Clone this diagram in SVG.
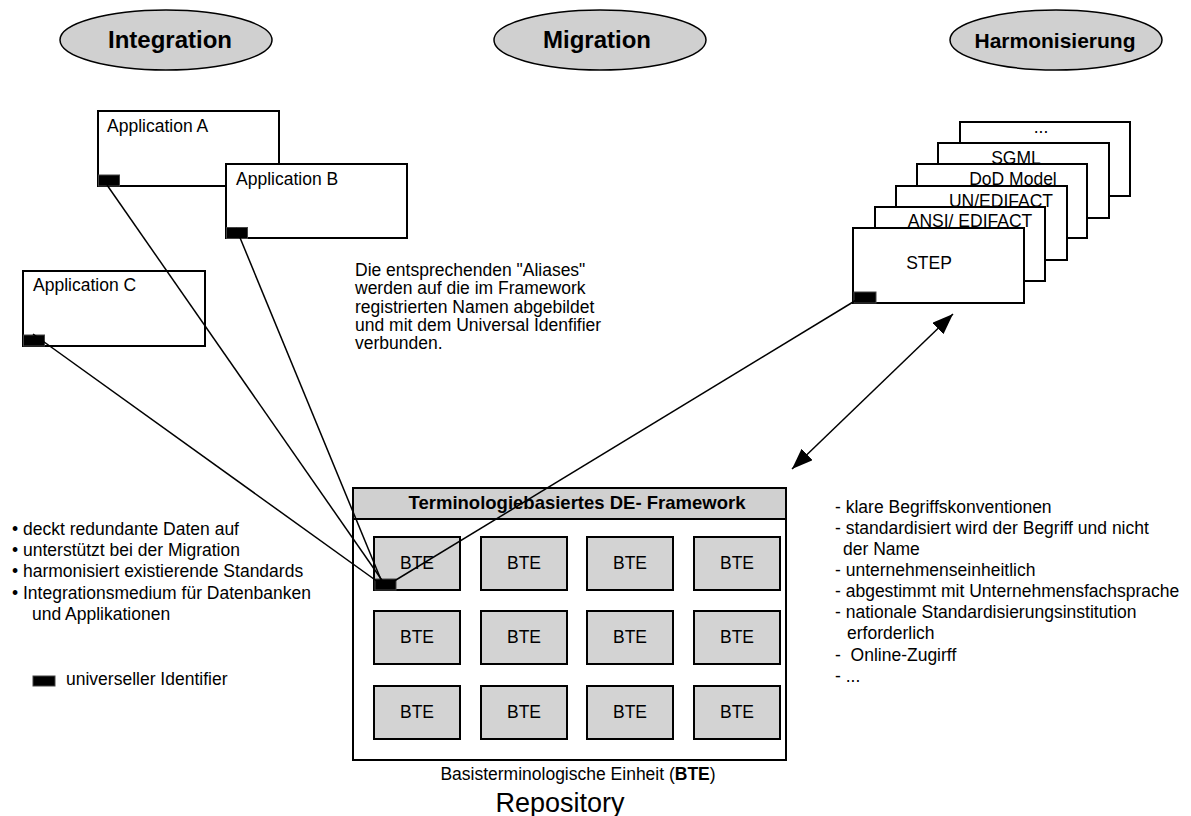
<svg xmlns="http://www.w3.org/2000/svg" width="1191" height="816" viewBox="0 0 1191 816">
<style>
text{font-family:"Liberation Sans",Arial,sans-serif;fill:#000}
.t{font-size:17.5px}
.h{font-size:24px;font-weight:bold}
.ell{fill:#d0d0d0;stroke:#000;stroke-width:1.5}
.box{fill:#fff;stroke:#000;stroke-width:2}
.bte{fill:#d3d3d3;stroke:#000;stroke-width:2}
.uid{fill:#000;stroke:#444;stroke-width:1}
.con{stroke:#000;stroke-width:1.5;fill:none}
</style>
<defs>
<marker id="ah" markerUnits="userSpaceOnUse" markerWidth="24" markerHeight="18" refX="21" refY="8" orient="auto-start-reverse">
<path d="M0,0 L21,8 L0,16 z" fill="#000"/>
</marker>
</defs>
<rect width="1191" height="816" fill="#fff"/>

<g id="integration"><ellipse class="ell" cx="166" cy="40" rx="106" ry="30"/><text class="h" x="170" y="48" text-anchor="middle">Integration</text></g>
<g id="migration"><ellipse class="ell" cx="600" cy="40" rx="106" ry="30"/><text class="h" x="597" y="48" text-anchor="middle">Migration</text></g>
<g id="harmonisierung"><ellipse class="ell" cx="1056" cy="40" rx="106" ry="30"/><text class="h" x="1055" y="48" text-anchor="middle" style="font-size:21px">Harmonisierung</text></g>

<g id="appA"><rect class="box" x="98" y="111" width="181" height="75"/><text class="t" x="107" y="132">Application A</text><rect class="uid" x="98.5" y="175" width="21" height="11"/></g>
<g id="appB"><rect class="box" x="226" y="164" width="181" height="74"/><text class="t" x="236" y="185">Application B</text><rect class="uid" x="226.5" y="227.5" width="21" height="11"/></g>
<g id="appC"><rect class="box" x="23" y="271" width="182" height="75"/><text class="t" x="33" y="291">Application C</text><rect class="uid" x="23.5" y="335" width="21" height="11"/></g>

<g id="standards">
<rect class="box" x="960" y="122" width="170" height="74"/><text class="t" x="1041" y="133" text-anchor="middle">...</text>
<rect class="box" x="938" y="143" width="171" height="75"/><text class="t" x="1016" y="164" text-anchor="middle">SGML</text>
<rect class="box" x="917" y="164" width="170" height="74"/><text class="t" x="1013" y="185" text-anchor="middle">DoD Model</text>
<rect class="box" x="896" y="186" width="171" height="74"/><text class="t" x="1001" y="207" text-anchor="middle">UN/EDIFACT</text>
<rect class="box" x="875" y="207" width="170" height="74"/><text class="t" x="970" y="227" text-anchor="middle">ANSI/ EDIFACT</text>
<rect class="box" x="853" y="228" width="171" height="75"/><text class="t" x="929" y="269" text-anchor="middle">STEP</text>
<rect class="uid" x="854" y="292" width="22" height="11"/>
</g>

<g id="framework">
<rect x="353" y="488" width="433" height="272" fill="#fff" stroke="#000" stroke-width="2"/>
<rect x="353" y="488" width="433" height="31" fill="#d0d0d0" stroke="#000" stroke-width="2"/>
<text x="577" y="509" text-anchor="middle" style="font-size:18.5px;font-weight:bold">Terminologiebasiertes DE- Framework</text>
<g id="bte-grid">
<rect class="bte" x="374" y="537" width="86" height="53"/><text class="t" x="417" y="569" text-anchor="middle">BTE</text>
<rect class="bte" x="481" y="537" width="86" height="53"/><text class="t" x="524" y="569" text-anchor="middle">BTE</text>
<rect class="bte" x="587" y="537" width="86" height="53"/><text class="t" x="630" y="569" text-anchor="middle">BTE</text>
<rect class="bte" x="694" y="537" width="86" height="53"/><text class="t" x="737" y="569" text-anchor="middle">BTE</text>
<rect class="bte" x="374" y="611" width="86" height="53"/><text class="t" x="417" y="643" text-anchor="middle">BTE</text>
<rect class="bte" x="481" y="611" width="86" height="53"/><text class="t" x="524" y="643" text-anchor="middle">BTE</text>
<rect class="bte" x="587" y="611" width="86" height="53"/><text class="t" x="630" y="643" text-anchor="middle">BTE</text>
<rect class="bte" x="694" y="611" width="86" height="53"/><text class="t" x="737" y="643" text-anchor="middle">BTE</text>
<rect class="bte" x="374" y="686" width="86" height="53"/><text class="t" x="417" y="718" text-anchor="middle">BTE</text>
<rect class="bte" x="481" y="686" width="86" height="53"/><text class="t" x="524" y="718" text-anchor="middle">BTE</text>
<rect class="bte" x="587" y="686" width="86" height="53"/><text class="t" x="630" y="718" text-anchor="middle">BTE</text>
<rect class="bte" x="694" y="686" width="86" height="53"/><text class="t" x="737" y="718" text-anchor="middle">BTE</text>
</g>
<rect class="uid" x="375" y="579" width="21" height="11"/>
<text class="t" x="578" y="780" text-anchor="middle">Basisterminologische Einheit (<tspan font-weight="bold">BTE</tspan>)</text>
<text x="560" y="812" text-anchor="middle" style="font-size:27px">Repository</text>
</g>

<g id="connectors">
<line class="con" x1="107" y1="185" x2="386" y2="586"/>
<line class="con" x1="236" y1="228" x2="384" y2="587"/>
<line class="con" x1="33" y1="334" x2="385" y2="587"/>
<line class="con" x1="858" y1="299" x2="386" y2="586"/>
<line class="con" x1="792" y1="469" x2="953" y2="314" marker-start="url(#ah)" marker-end="url(#ah)"/>
</g>

<g id="note-aliases">
<text class="t" x="355" y="276">Die entsprechenden "Aliases"</text>
<text class="t" x="355" y="294">werden auf die im Framework</text>
<text class="t" x="355" y="313">registrierten Namen abgebildet</text>
<text class="t" x="355" y="331">und mit dem Universal Idenfifier</text>
<text class="t" x="355" y="349">verbunden.</text>
</g>

<g id="note-left">
<text class="t" x="12" y="535">• deckt redundante Daten auf</text>
<text class="t" x="12" y="556">• unterstützt bei der Migration</text>
<text class="t" x="12" y="577">• harmonisiert existierende Standards</text>
<text class="t" x="12" y="599">• Integrationsmedium für Datenbanken</text>
<text class="t" x="32" y="620">und Applikationen</text>
</g>

<g id="legend">
<rect class="uid" x="33" y="676" width="22" height="10"/>
<text class="t" x="66" y="685">universeller Identifier</text>
</g>

<g id="note-right">
<text class="t" x="835" y="513">- klare Begriffskonventionen</text>
<text class="t" x="835" y="534">- standardisiert wird der Begriff und nicht</text>
<text class="t" x="843" y="555">der Name</text>
<text class="t" x="835" y="576">- unternehmenseinheitlich</text>
<text class="t" x="835" y="597">- abgestimmt mit Unternehmensfachsprache</text>
<text class="t" x="835" y="618">- nationale Standardisierungsinstitution</text>
<text class="t" x="847" y="639">erforderlich</text>
<text class="t" x="835" y="661" xml:space="preserve">-  Online-Zugirff</text>
<text class="t" x="835" y="682">- ...</text>
</g>
</svg>
